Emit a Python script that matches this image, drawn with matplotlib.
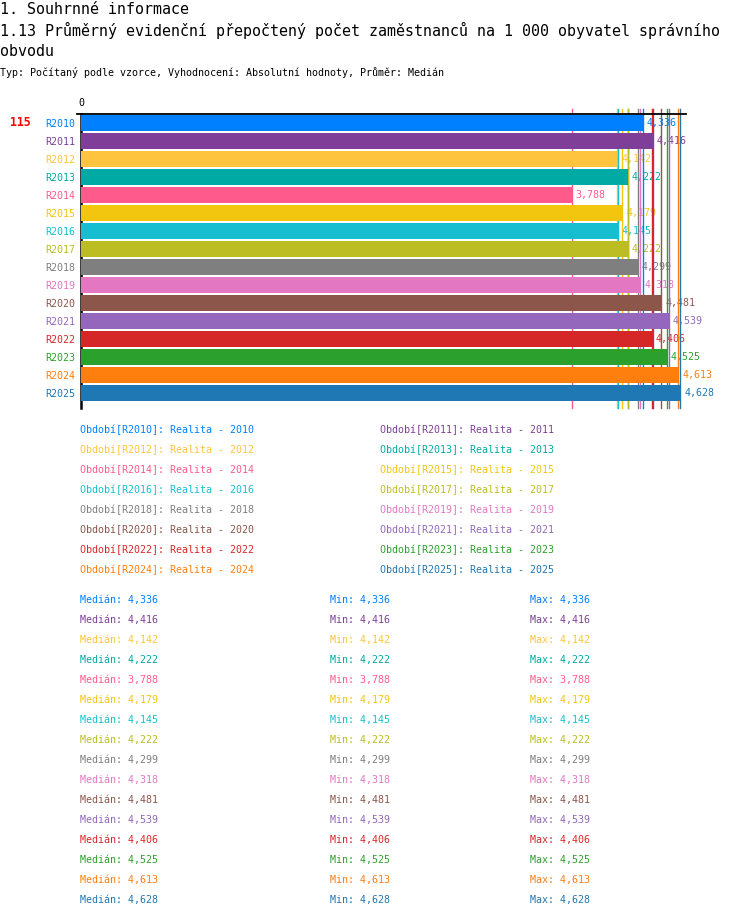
import matplotlib
matplotlib.use("Agg")
import matplotlib.pyplot as plt

W, H = 750, 918
MONO = "DejaVu Sans Mono"

title_1 = "1. Souhrnné informace"
title_2 = "1.13 Průměrný evidenční přepočtený počet zaměstnanců na 1 000 obyvatel správního"
title_3 = "obvodu"
subtitle = "Typ: Počítaný podle vzorce, Vyhodnocení: Absolutní hodnoty, Průměr: Medián"
region_code = "115"

periods = ["R2010", "R2011", "R2012", "R2013", "R2014", "R2015", "R2016", "R2017",
           "R2018", "R2019", "R2020", "R2021", "R2022", "R2023", "R2024", "R2025"]
series_names = ["Realita - 2010", "Realita - 2011", "Realita - 2012", "Realita - 2013",
                "Realita - 2014", "Realita - 2015", "Realita - 2016", "Realita - 2017",
                "Realita - 2018", "Realita - 2019", "Realita - 2020", "Realita - 2021",
                "Realita - 2022", "Realita - 2023", "Realita - 2024", "Realita - 2025"]
values = [4.336, 4.416, 4.142, 4.222, 3.788, 4.179, 4.145, 4.222,
          4.299, 4.318, 4.481, 4.539, 4.406, 4.525, 4.613, 4.628]
medians = [4.336, 4.416, 4.142, 4.222, 3.788, 4.179, 4.145, 4.222,
           4.299, 4.318, 4.481, 4.539, 4.406, 4.525, 4.613, 4.628]
mins = [4.336, 4.416, 4.142, 4.222, 3.788, 4.179, 4.145, 4.222,
        4.299, 4.318, 4.481, 4.539, 4.406, 4.525, 4.613, 4.628]
maxs = [4.336, 4.416, 4.142, 4.222, 3.788, 4.179, 4.145, 4.222,
        4.299, 4.318, 4.481, 4.539, 4.406, 4.525, 4.613, 4.628]
colors = ["#0080FF", "#7F3F98", "#FFC43D", "#00AAA4", "#FF5A8C", "#F2C50F",
          "#17BECF", "#BCBD22", "#7F7F7F", "#E377C2", "#8C564B", "#9467BD",
          "#D62728", "#2CA02C", "#FF7F0E", "#1F77B4"]


def fmt(v):
    return f"{v:.3f}".replace(".", ",")


def fx(px):
    return px / W


def fy(py):
    return 1 - py / H


fig = plt.figure(figsize=(W / 100, H / 100), dpi=100)

# titles
fig.text(fx(0), fy(9), title_1, family=MONO, fontsize=10.8, va="center")
fig.text(fx(0), fy(30), title_2, family=MONO, fontsize=10.8, va="center")
fig.text(fx(0), fy(51), title_3, family=MONO, fontsize=10.8, va="center")
fig.text(fx(0), fy(73), subtitle, family=MONO, fontsize=7.2, va="center")

# bar area: x 81..686 px, y 114..408 px
left, right, top, bottom = 81, 686, 114, 408
ax = fig.add_axes([fx(left), fy(bottom), fx(right - left), (bottom - top) / H])
px_per_unit = 129.5
ax.set_xlim(0, (right - left) / px_per_unit)
ax.set_ylim(-0.5 + (bottom - top) / 18, -0.5)

ypos = list(range(len(periods)))
ax.barh(ypos, values, height=16 / 18, color=colors, zorder=3)
for i, m in enumerate(medians):
    ax.axvline(m, ymin=0, ymax=(bottom - 109) / (bottom - top), color=colors[i],
               lw=1, zorder=2, clip_on=False)
for i, v in enumerate(values):
    ax.text(v + 4 / px_per_unit, i, fmt(v), color=colors[i], family=MONO,
            fontsize=7.2, va="center", ha="left", zorder=1)

for s in ["right", "bottom"]:
    ax.spines[s].set_visible(False)
ax.spines["top"].set_linewidth(1.3)
ax.spines["left"].set_linewidth(1.8)
ax.set_xticks([])
ax.set_yticks(ypos)
ax.set_yticklabels(periods, family=MONO, fontsize=7.2)
for lbl, c in zip(ax.get_yticklabels(), colors):
    lbl.set_color(c)
ax.tick_params(axis="y", length=0, pad=4)

# zero tick above axis
fig.add_artist(plt.Line2D([fx(77), fx(81)], [fy(114), fy(114)], color="black", lw=1.3))
fig.text(fx(81), fy(103), "0", family=MONO, fontsize=7.2, ha="center", va="center")
fig.text(fx(10), fy(123), region_code, family=MONO, fontsize=8.3, fontweight="bold",
         color="#FF0000", va="center")

# legend
for i, (p, name) in enumerate(zip(periods, series_names)):
    col, row = i % 2, i // 2
    fig.text(fx(80 + 300 * col), fy(430 + 20 * row), f"Období[{p}]: {name}",
             family=MONO, fontsize=7.2, color=colors[i], va="center")

# statistics
for i in range(len(periods)):
    y = fy(600 + 20 * i)
    fig.text(fx(80), y, f"Medián: {fmt(medians[i])}", family=MONO, fontsize=7.2,
             color=colors[i], va="center")
    fig.text(fx(330), y, f"Min: {fmt(mins[i])}", family=MONO, fontsize=7.2,
             color=colors[i], va="center")
    fig.text(fx(530), y, f"Max: {fmt(maxs[i])}", family=MONO, fontsize=7.2,
             color=colors[i], va="center")

fig.savefig("out.png", dpi=100)
